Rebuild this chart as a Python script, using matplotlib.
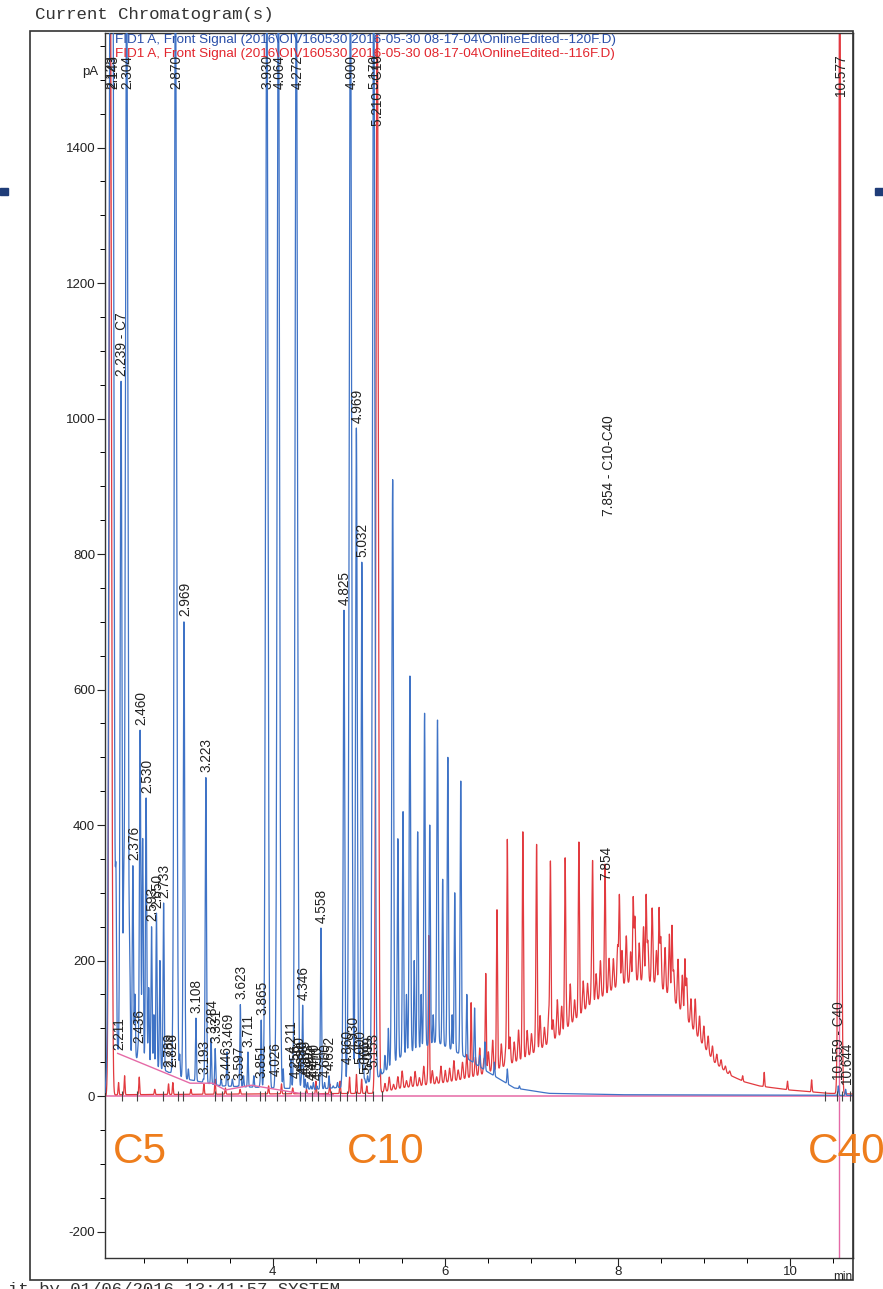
import matplotlib.pyplot as plt
import numpy as np
from matplotlib.patches import Rectangle

plt.rcParams['font.family'] = ['Liberation Sans', 'DejaVu Sans']
plt.rcParams['axes.unicode_minus'] = False

W, H = 883, 1289

# --- run 120F (blue): apex retention time [min] and apex signal [pA] ---
blue_rt = [2.113, 2.143, 2.18, 2.211, 2.239, 2.27, 2.304, 2.34, 2.376, 2.40,
           2.436, 2.460, 2.49, 2.530, 2.56, 2.593, 2.620, 2.650, 2.690, 2.733,
           2.789, 2.826, 2.870, 2.92, 2.969, 3.02, 3.108, 3.193, 3.223, 3.284,
           3.331, 3.40, 3.446, 3.469, 3.53, 3.597, 3.623, 3.66, 3.711, 3.78,
           3.851, 3.865, 3.930, 3.97, 4.026, 4.064, 4.12, 4.211, 4.256, 4.272,
           4.300, 4.330, 4.346, 4.375, 4.403, 4.440, 4.470, 4.510, 4.558, 4.600,
           4.652, 4.70, 4.75, 4.80, 4.825, 4.860, 4.900, 4.930, 4.969, 5.000,
           5.032, 5.066, 5.099, 5.13, 5.153, 5.170, 5.25, 5.30, 5.34, 5.39,
           5.45, 5.51, 5.55, 5.59, 5.64, 5.68, 5.72, 5.76, 5.82, 5.86,
           5.91, 5.97, 6.03, 6.08, 6.11, 6.18, 6.25, 6.34, 6.40, 6.46,
           6.57, 6.72, 6.86, 10.559, 10.644]
blue_apex = [1700, 1700, 300, 60, 1055, 250, 1700, 180, 340, 150,
             70, 540, 380, 440, 160, 250, 120, 270, 200, 285,
             35, 35, 1700, 60, 700, 40, 115, 25, 470, 85,
             70, 25, 15, 65, 25, 15, 135, 30, 65, 30,
             18, 112, 1700, 40, 22, 1700, 40, 55, 18, 1700,
             30, 25, 134, 25, 20, 15, 20, 15, 248, 20,
             30, 15, 20, 25, 717, 40, 1700, 60, 986, 40,
             788, 25, 30, 20, 35, 1700, 40, 60, 100, 910,
             380, 420, 150, 620, 200, 390, 150, 565, 400, 120,
             555, 320, 500, 120, 300, 465, 150, 130, 60, 80,
             50, 40, 15, 15, 10]
blue_base_t = [2.05, 2.10, 2.20, 2.60, 3.00, 3.40, 4.00, 4.50, 5.00, 5.20,
               5.50, 5.90, 6.20, 6.50, 6.80, 7.20, 8.00, 10.73]
blue_base_y = [0, 90, 70, 45, 25, 15, 12, 10, 15, 25,
               60, 80, 60, 35, 12, 4, 2, 1]
blue_labels = [2.143, 2.211, 2.304, 2.376, 2.436, 2.460, 2.530, 2.593, 2.650,
               2.733, 2.789, 2.826, 2.870, 2.969, 3.108, 3.193, 3.223, 3.284,
               3.331, 3.446, 3.469, 3.597, 3.623, 3.711, 3.851, 3.865, 3.930,
               4.026, 4.064, 4.211, 4.256, 4.272, 4.300, 4.330, 4.346, 4.375,
               4.403, 4.440, 4.470, 4.510, 4.558, 4.600, 4.652, 4.825, 4.860,
               4.900, 4.930, 4.969, 5.000, 5.032, 5.066, 5.099, 5.153, 5.170,
               10.644]

# --- run 116F (red) ---
red_rt = [2.115, 2.21, 2.28, 2.45, 2.63, 2.79, 2.84, 3.05, 3.20, 3.33,
          3.45, 3.62, 3.95, 4.10, 4.23, 4.39, 4.50, 4.66, 4.78, 4.89,
          4.97, 5.03, 5.09, 5.210, 5.81, 6.30, 6.47, 6.60, 6.72, 6.90,
          7.06, 7.22, 7.39, 7.55, 7.71, 7.854, 8.02, 8.18, 8.33, 8.48,
          8.63, 8.78, 9.45, 9.70, 9.97, 10.25, 10.577]
red_apex = [1700, 20, 30, 28, 10, 18, 20, 10, 18, 25,
            12, 10, 15, 18, 12, 10, 22, 18, 22, 28,
            32, 25, 15, 1700, 230, 120, 180, 250, 378, 365,
            355, 345, 335, 325, 318, 311, 295, 290, 295, 275,
            250, 200, 30, 35, 22, 24, 1700]
red_base_t = [2.05, 2.20, 5.20, 5.50, 6.00, 6.17, 6.40, 6.63, 6.86, 7.09,
              7.33, 7.50, 7.67, 7.85, 8.02, 8.25, 8.43, 8.60, 8.77, 8.95,
              9.12, 9.30, 9.47, 9.64, 9.99, 10.45, 10.73]
red_base_y = [0, 2, 4, 12, 20, 24, 31, 41, 53, 68,
              90, 112, 134, 149, 164, 171, 167, 149, 120, 83,
              50, 31, 21, 15, 9, 4, 3]
# fine structure riding on the hump, every 0.05 min from 5.30 min
red_noise_start = 5.30
red_noise = [12, 20, 8, 18, 25, 10, 15, 22, 12, 28, 15, 20, 10, 25, 18,
             20, 30, 15, 25, 35, 18, 28, 40, 22, 30, 45, 25, 35, 20, 40,
             30, 45, 25, 38, 30,
             35, 50, 28, 45, 30, 55, 40, 35, 60, 30, 50, 45, 35, 60, 40,
             55, 35, 50, 45, 60,
             50, 70, 45, 95, 55, 80, 60, 110, 50, 75, 65, 90, 45, 70, 55,
             60, 40, 50, 35, 30,
             25, 20, 15, 12, 8, 6]

# integration baseline under the early blue peaks
pink_bl_t = [2.20, 3.04, 3.30, 3.45, 3.75, 4.31, 4.70]
pink_bl_y = [63, 19, 19, 9, 16, 4, 2]

# peak start/stop event marks on the zero line
event_rt = [2.25, 2.42, 2.73, 2.90, 2.96, 3.33, 3.41, 3.52, 3.69, 3.85,
            3.91, 4.05, 4.14, 4.31, 4.37, 4.45, 4.52, 4.60, 4.68, 4.78,
            4.86, 4.97, 5.07, 5.16, 5.27, 10.41, 10.54, 10.60, 10.69]

# named components
named = [(2.239, '2.239 - C7'), (5.210, '5.210 - C10'),
         (10.577, '10.577'), (10.559, '10.559 - C40')]

XMIN, XMAX = 2.053, 10.73
YMIN, YMAX = -239, 1569
t = np.linspace(XMIN, XMAX, 24000)


def width(apex):
    return 0.005 + 0.000005 * min(apex, 1700)


def trace(rt, apex, bt, by, extra=None):
    y = np.interp(t, bt, by).astype(float)
    for r, a in zip(rt, apex):
        amp = a - np.interp(r, bt, by)
        s = width(a)
        y += amp * np.exp(-0.5 * ((t - r) / s) ** 2)
    if extra is not None:
        for r, a in extra:
            y += a * np.exp(-0.5 * ((t - r) / 0.008) ** 2)
    return y


noise_pk = [(red_noise_start + 0.05 * i, h) for i, h in enumerate(red_noise)]

fig = plt.figure(figsize=(W / 100, H / 100), dpi=100)
ax = fig.add_axes([105 / W, 1 - 1258 / H, (853 - 105) / W, (1258 - 33) / H])

BLUE = '#3f73c6'
RED = '#e23a3f'
PINK = '#e56aa6'

ax.axhline(0, color=PINK, lw=1.1, zorder=1)
ax.plot(t, trace(blue_rt, blue_apex, blue_base_t, blue_base_y), color=BLUE, lw=0.9, zorder=3)
ax.plot(t, trace(red_rt, red_apex, red_base_t, red_base_y, noise_pk), color=RED, lw=0.9, zorder=2)
ax.plot(pink_bl_t, pink_bl_y, color=PINK, lw=1.0, zorder=4)
ax.axvline(10.562, color=PINK, lw=1.0, zorder=1)
ax.vlines(event_rt, -7, 8, color='#444444', lw=0.8, zorder=5)

LBL = dict(rotation=90, fontsize=9.8, color='#222222', ha='center', clip_on=False)


def put_label(r, apex, text):
    if apex > YMAX - 40:
        ax.text(r + 0.012, 1537, text, va='top', **LBL)
    else:
        ax.text(r + 0.012, apex + 8, text, va='bottom', **LBL)


for r in blue_labels:
    put_label(r, blue_apex[blue_rt.index(r)], f'{r:.3f}')
put_label(2.115, red_apex[0], '2.123')
put_label(7.854, red_apex[red_rt.index(7.854)], '7.854')
for r, txt in named:
    if r in blue_rt:
        a = blue_apex[blue_rt.index(r)]
    else:
        a = red_apex[red_rt.index(r)]
    put_label(r, a, txt)
ax.text(7.90, 931, '7.854 - C10-C40', va='center', **LBL)

ax.set_xlim(XMIN, XMAX)
ax.set_ylim(YMIN, YMAX)
ax.set_yticks(np.arange(-200, 1401, 200))
ax.set_yticks(np.arange(-200, 1551, 50), minor=True)
ax.set_xticks([4, 6, 8, 10])
ax.set_xticks(np.arange(2.5, 10.6, 0.5), minor=True)
ax.tick_params(which='major', direction='out', length=5.5, width=0.8, labelsize=9.5,
               colors='#222222', pad=1.5)
ax.tick_params(which='minor', direction='out', length=3.5, width=0.7)
ax.tick_params(axis='x', pad=0.5)
for sp in ax.spines.values():
    sp.set_color('#333333')
    sp.set_linewidth(1.0)

fig.text(98 / W, 1 - 72 / H, 'pA', ha='right', va='center', fontsize=9.5, color='#222222')
fig.text(843 / W, 1 - 1277 / H, 'min', ha='center', va='center', fontsize=8.5, color='#222222')

# page frame around the plot
fig.patches.append(Rectangle((30 / W, 1 - 1280 / H), (853 - 30) / W, (1280 - 31) / H,
                             transform=fig.transFigure, fill=False, lw=1.2, ec='#333333'))

fig.text(35 / W, 1 - 15 / H, 'Current Chromatogram(s)', family='Liberation Mono',
         fontsize=12.5, color='#333333', va='center')
fig.text(115 / W, 1 - 40 / H,
         r'FID1 A, Front Signal (2016\OIV160530 2016-05-30 08-17-04\OnlineEdited--120F.D)',
         fontsize=9.7, color='#2a4fa8', va='center')
fig.text(115 / W, 1 - 54 / H,
         r'FID1 A, Front Signal (2016\OIV160530 2016-05-30 08-17-04\OnlineEdited--116F.D)',
         fontsize=9.7, color='#e2262e', va='center')
fig.text(8 / W, -5 / H, 'it by 01/06/2016 13:41:57 SYSTEM', family='Liberation Mono',
         fontsize=12.5, color='#333333', va='baseline')

ORANGE = '#ee7d1c'
for x, s in [(113, 'C5'), (347, 'C10'), (808, 'C40')]:
    fig.text(x / W, 1 - 1152 / H, s, fontsize=30.5, color=ORANGE, va='center')

for x in (0, 875):
    fig.patches.append(Rectangle((x / W, 1 - 195 / H), 8 / W, 7 / H,
                                 transform=fig.transFigure, color='#1f3c78'))

fig.savefig('out.png', dpi=100)
